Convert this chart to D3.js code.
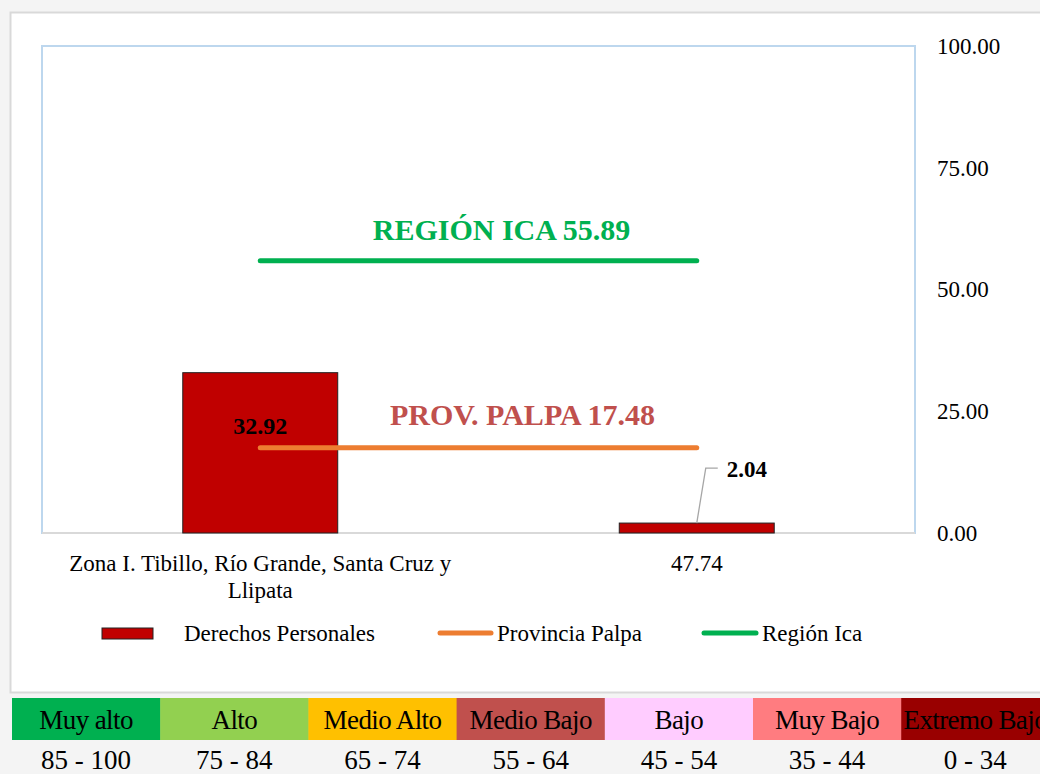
<!DOCTYPE html>
<html>
<head>
<meta charset="utf-8">
<script src="https://cdn.jsdelivr.net/npm/d3@7"></script>
<style>
  html, body { margin: 0; padding: 0; background: #f4f4f4; }
  svg { display: block; font-family: "Liberation Serif", "Times New Roman", serif; }
</style>
</head>
<body>
<div id="chart"></div>
<script>
// data
var categories = ["Zona I. Tibillo, Río Grande, Santa Cruz y Llipata", "47.74"];
var derechos = [32.92, 2.04];
var provincia = [17.48, 17.48];
var region = [55.89, 55.89];
var yTicks = [0, 25, 50, 75, 100];
var legendNames = ["Derechos Personales", "Provincia Palpa", "Región Ica"];
var levelNames = ["Muy alto", "Alto", "Medio Alto", "Medio Bajo", "Bajo", "Muy Bajo", "Extremo Bajo"];
var levelRanges = ["85 - 100", "75 - 84", "65 - 74", "55 - 64", "45 - 54", "35 - 44", "0 - 34"];
var levelColors = ["#00b050", "#92d050", "#ffc000", "#c0504d", "#ffccff", "#ff7c80", "#990000"];

var W = 1040, H = 774;
var plot = { left: 42, right: 915, top: 46, bottom: 533 };

var svg = d3.select("#chart").append("svg")
    .attr("width", W)
    .attr("height", H);

// page background / chart frame
svg.append("rect").attr("x", 0).attr("y", 0).attr("width", W).attr("height", H).attr("fill", "#f4f4f4");
svg.append("rect")
    .attr("x", 10.5).attr("y", 12.5).attr("width", W).attr("height", 680)
    .attr("fill", "#ffffff").attr("stroke", "#d9d9d9").attr("stroke-width", 2);

var x = d3.scaleBand()
    .domain(categories)
    .range([plot.left, plot.right])
    .padding(0);
var barW = x.bandwidth() * 0.355;

var y = d3.scaleLinear()
    .domain([0, 100])
    .range([plot.bottom, plot.top]);

// plot area border
svg.append("rect")
    .attr("x", plot.left).attr("y", plot.top)
    .attr("width", plot.right - plot.left).attr("height", plot.bottom - plot.top)
    .attr("fill", "none").attr("stroke", "#bdd7ee").attr("stroke-width", 2);
svg.append("line")
    .attr("x1", plot.left).attr("x2", plot.right)
    .attr("y1", plot.bottom).attr("y2", plot.bottom)
    .attr("stroke", "#d9d9d9").attr("stroke-width", 2);

// y axis on the right
var yAxis = svg.append("g")
    .attr("transform", "translate(" + (plot.right + 22) + ",0)")
    .call(d3.axisRight(y).tickValues(yTicks).tickSize(0).tickPadding(0).tickFormat(d3.format(".2f")));
yAxis.select(".domain").remove();
yAxis.selectAll("text")
    .style("font-family", "Liberation Serif")
    .style("font-size", "23px")
    .attr("fill", "#000");

// bars
svg.selectAll(".bar")
    .data(derechos)
    .enter().append("rect")
    .attr("class", "bar")
    .attr("x", function (d, i) { return x(categories[i]) + (x.bandwidth() - barW) / 2; })
    .attr("y", function (d) { return y(d); })
    .attr("width", barW)
    .attr("height", function (d) { return y(0) - y(d); })
    .attr("fill", "#c00000")
    .attr("stroke", "#222")
    .attr("stroke-width", 1);

// reference lines
var cx = function (d, i) { return x(categories[i]) + x.bandwidth() / 2; };
var lineGen = d3.line().x(cx).y(function (d) { return y(d); });
svg.append("path").datum(provincia)
    .attr("d", lineGen).attr("fill", "none")
    .attr("stroke", "#ed7d31").attr("stroke-width", 5).attr("stroke-linecap", "round");
svg.append("path").datum(region)
    .attr("d", lineGen).attr("fill", "none")
    .attr("stroke", "#00b050").attr("stroke-width", 5).attr("stroke-linecap", "round");

// line annotations
var midX = (cx(null, 0) + cx(null, 1)) / 2;
svg.append("text")
    .attr("x", midX + 23).attr("y", y(region[0]) - 21)
    .attr("text-anchor", "middle")
    .style("font-size", "30px").style("font-weight", "bold")
    .attr("fill", "#00b050")
    .text("REGIÓN ICA " + region[0].toFixed(2));
svg.append("text")
    .attr("x", midX + 44).attr("y", y(provincia[0]) - 23)
    .attr("text-anchor", "middle")
    .style("font-size", "30px").style("font-weight", "bold")
    .attr("fill", "#c0504d")
    .text("PROV. PALPA " + provincia[0].toFixed(2));

// bar value labels
svg.append("text")
    .attr("x", cx(null, 0)).attr("y", y(derechos[0]) + 61)
    .attr("text-anchor", "middle")
    .style("font-size", "24px").style("font-weight", "bold")
    .text(derechos[0].toFixed(2));
var c1 = cx(null, 1);
svg.append("polyline")
    .attr("points", [[c1, y(derechos[1])], [c1 + 9, y(derechos[1]) - 55], [c1 + 21, y(derechos[1]) - 55]].join(" "))
    .attr("fill", "none").attr("stroke", "#a6a6a6").attr("stroke-width", 1.3);
svg.append("text")
    .attr("x", c1 + 30).attr("y", y(derechos[1]) - 46)
    .style("font-size", "23px").style("font-weight", "bold")
    .text(derechos[1].toFixed(2));

// category labels
function wrapLines(str, maxW) {
    var words = str.split(" "), lines = [], cur = "";
    var tmp = svg.append("text").style("font-size", "23px");
    words.forEach(function (w) {
        var test = cur ? cur + " " + w : w;
        tmp.text(test);
        if (tmp.node().getComputedTextLength() > maxW && cur) { lines.push(cur); cur = w; }
        else cur = test;
    });
    lines.push(cur);
    tmp.remove();
    return lines;
}
categories.forEach(function (c, i) {
    var t = svg.append("text")
        .attr("text-anchor", "middle")
        .style("font-size", "23px");
    wrapLines(c, 420).forEach(function (ln, j) {
        t.append("tspan").attr("x", cx(null, i)).attr("y", 571 + j * 27).text(ln);
    });
});

// legend
var lg = svg.append("g").attr("transform", "translate(0,633)");
lg.append("rect").attr("x", 102).attr("y", -5).attr("width", 51).attr("height", 11)
    .attr("fill", "#c00000").attr("stroke", "#222").attr("stroke-width", 1);
lg.append("text").attr("x", 184).attr("y", 8).style("font-size", "23px").text(legendNames[0]);
lg.append("line").attr("x1", 440).attr("x2", 491).attr("y1", 0).attr("y2", 0)
    .attr("stroke", "#ed7d31").attr("stroke-width", 5).attr("stroke-linecap", "round");
lg.append("text").attr("x", 497).attr("y", 8).style("font-size", "23px").text(legendNames[1]);
lg.append("line").attr("x1", 704).attr("x2", 756).attr("y1", 0).attr("y2", 0)
    .attr("stroke", "#00b050").attr("stroke-width", 5).attr("stroke-linecap", "round");
lg.append("text").attr("x", 762).attr("y", 8).style("font-size", "23px").text(legendNames[2]);

// level table
var cellW = 148.2, tableX = 12;
var cells = svg.selectAll(".lvl")
    .data(levelNames)
    .enter().append("g")
    .attr("class", "lvl")
    .attr("transform", function (d, i) { return "translate(" + (tableX + i * cellW) + ",0)"; });
cells.append("rect")
    .attr("y", 698).attr("width", cellW + 0.5).attr("height", 42)
    .attr("fill", function (d, i) { return levelColors[i]; });
cells.append("text")
    .attr("x", cellW / 2).attr("y", 729)
    .attr("text-anchor", "middle")
    .style("font-size", "27px")
    .style("letter-spacing", "-0.6px")
    .text(function (d) { return d; });
cells.append("text")
    .attr("x", cellW / 2).attr("y", 769)
    .attr("text-anchor", "middle")
    .style("font-size", "27px")
    .text(function (d, i) { return levelRanges[i]; });
</script>
</body>
</html>
